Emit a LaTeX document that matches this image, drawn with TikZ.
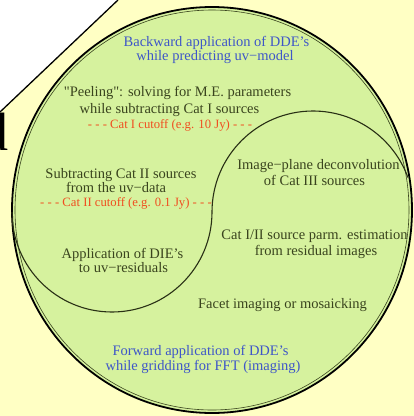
\documentclass[tikz,border=0pt]{standalone}
\usepackage{fontspec}
\setmainfont{Liberation Serif}[Ligatures=TeXOff]
\definecolor{paper}{RGB}{255,255,196}
\definecolor{disc}{RGB}{214,242,158}
\definecolor{ink}{RGB}{58,68,30}
\definecolor{blueink}{RGB}{62,86,200}
\definecolor{redink}{RGB}{240,78,32}
\begin{document}
\begin{tikzpicture}[x=1pt,y=-1pt,
  txt/.style={inner sep=0pt, anchor=base, font=\fontsize{14.5}{15}\selectfont, text=ink},
  bluetxt/.style={txt, text=blueink},
  cut/.style={inner sep=0pt, anchor=base, font=\fontsize{12.7}{15}\selectfont, text=redink},
  rim/.style={line width=1.8pt, black},
  innerrim/.style={line width=0.6pt, ink},
  divider/.style={line width=1.1pt, ink!70!black}]
\useasboundingbox (0,0) rectangle (414,416);
\clip (0,0) rectangle (414,416);

% page background with the cut-off corner
\fill[white] (0,0) rectangle (414,416);
\coordinate (edgeA) at (0,112);
\coordinate (edgeB) at (118,0);
\fill[paper] (edgeA) -- (edgeB) -- (414,0) -- (414,416) -- (0,416) -- cycle;
\draw[line width=1.3pt] (edgeA) -- (edgeB);
\node[inner sep=0pt, anchor=base west, font=\fontsize{54}{54}\selectfont] (letter) at (-19,150) {d};

% the main disc
\coordinate (centre) at (212,210);
\fill[disc] (centre) ellipse [x radius=200, y radius=203];
\draw[innerrim] (centre) ellipse [x radius=197, y radius=200];
\draw[rim] (centre) ellipse [x radius=200, y radius=203];

% S-shaped divider
\coordinate (sStart) at (12,212);
\draw[divider] (sStart) arc[start angle=180, end angle=0, radius=100]
                        arc[start angle=180, end angle=340, radius=101];

% labels
\node[bluetxt] (backA) at (216.5,46)  {Backward application of DDE’s};
\node[bluetxt] (backB) at (215,60.7)  {while predicting uv−model};

\node[txt] (peelA) at (177.5,96.7) {"Peeling": solving for M.E. parameters};
\node[txt] (peelB) at (169.5,113)  {while subtracting Cat I sources};
\node[cut] (cutI)  at (170,128)    {- - - Cat I cutoff (e.g. 10 Jy) - - -};

\node[txt] (subA) at (121,178.3) {Subtracting Cat II sources};
\node[txt] (subB) at (116,192.7) {from the uv−data};
\node[cut] (cutII) at (126,206)  {- - - Cat II cutoff (e.g. 0.1 Jy) - - -};

\node[txt] (appA) at (122.5,258.3) {Application of DIE’s};
\node[txt] (appB) at (123.5,272.7) {to uv−residuals};

\node[txt] (imgA) at (318.5,169.3) {Image−plane deconvolution};
\node[txt] (imgB) at (314.5,185)   {of Cat III sources};

\node[txt] (parmA) at (314.5,239.7) {Cat I/II source parm. estimation};
\node[txt] (parmB) at (316,255.3)   {from residual images};

\node[txt] (facet) at (282.5,308.7) {Facet imaging or mosaicking};

\node[bluetxt] (fwdA) at (200.5,355.3) {Forward application of DDE’s};
\node[bluetxt] (fwdB) at (203,370.7)   {while gridding for FFT (imaging)};
\end{tikzpicture}
\end{document}
